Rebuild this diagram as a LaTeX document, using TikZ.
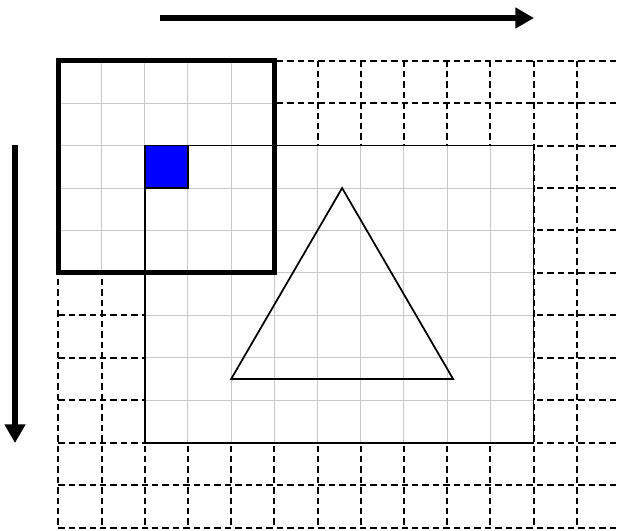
\documentclass[tikz,border=0pt]{standalone}
\usetikzlibrary{arrows.meta}
\begin{document}
\begin{tikzpicture}[x=0.75pt,y=-0.75pt,
  dashgrid/.style={line width=1.5pt,dash pattern=on 4.8pt off 3pt},
  graygrid/.style={line width=0.8pt,draw={rgb,255:red,200;green,200;blue,200}},
  imgrect/.style={line width=1.3pt},
  bigarrow/.style={line width=4pt,-{Triangle[length=14pt,width=15pt]}}]
\useasboundingbox (0,0) rectangle (618,531);
\fill[white] (0,0) rectangle (618,531);
\begin{scope}[xshift=43.725pt,yshift=-45.525pt,x=32.4pt,y=-31.8375pt]
  % dashed grid
  \foreach \i in {0,...,12} \draw[dashgrid] (\i,0) -- (\i,11);
  \foreach \j in {0,...,11} \draw[dashgrid] (0,\j) -- (12.96,\j);
  % white areas
  \fill[white] (0,0) rectangle (5,5);
  \fill[white] (2,2) rectangle (11,9);
  % gray grids
  \foreach \i in {0,...,5} \draw[graygrid] (\i,0) -- (\i,5);
  \foreach \j in {0,...,5} \draw[graygrid] (0,\j) -- (5,\j);
  \foreach \i in {2,...,11} \draw[graygrid] (\i,2) -- (\i,9);
  \foreach \j in {2,...,9} \draw[graygrid] (2,\j) -- (11,\j);
  % image rectangle
  \draw[imgrect] (2,2) rectangle (11,9);
  % blue square
  \draw[imgrect,fill=blue] (2,2) rectangle (3,3);
  % triangle
  \draw[imgrect,line join=miter] (4,7.5) -- (9.14,7.5) -- (6.57,3) -- cycle;
  % thick box
  \draw[line width=3.7pt] (0,0) rectangle (5,5);
\end{scope}
\coordinate (h1) at (160,18);
\coordinate (h2) at (534,18);
\coordinate (v1) at (15,145);
\coordinate (v2) at (15,443);
\draw[bigarrow] (h1) -- (h2);
\draw[bigarrow] (v1) -- (v2);
\end{tikzpicture}
\end{document}
